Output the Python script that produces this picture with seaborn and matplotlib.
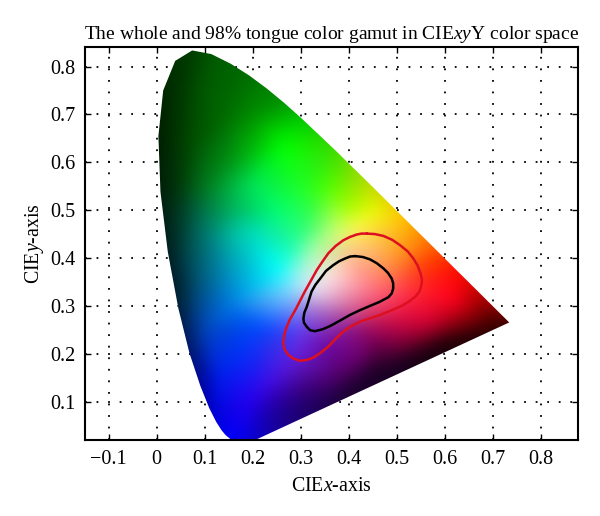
import numpy as np
import pandas as pd
import matplotlib
matplotlib.use("Agg")
import matplotlib.pyplot as plt
import matplotlib.tri as mtri
from matplotlib.patches import Polygon
import seaborn as sns

# chromaticity boundary
locus_x = [.1741,.1440,.1355,.1241,.1096,.0913,.0687,.0454,.0235,.0082,.0039,.0139,.0389,.0743,.1142,.1547,.1929,.2296,.2658,.3016,.3731,.4441,.5125,.5752,.6270,.6658,.6915,.7079,.7190,.7260,.7347]
locus_y = [.0050,.0297,.0399,.0578,.0868,.1327,.2007,.2950,.4127,.5384,.6548,.7502,.8120,.8338,.8262,.8059,.7816,.7543,.7243,.6923,.6245,.5547,.4866,.4242,.3725,.3340,.3083,.2920,.2809,.2740,.2653]
# whole tongue gamut (red) and 98% gamut (black)
red_x = [.438,.455,.473,.491,.507,.523,.535,.544,.550,.553,.552,.548,.539,.526,.511,.488,.466,.445,.424,.405,.389,.373,.358,.342,.327,.313,.299,.285,.275,.267,.264,.266,.270,.278,.289,.309,.334,.346,.358,.373,.389,.403,.417,.427,.438]
red_y = [.451,.450,.446,.438,.427,.414,.399,.384,.368,.355,.344,.330,.319,.309,.300,.290,.281,.274,.267,.257,.246,.231,.215,.202,.192,.187,.185,.190,.197,.208,.222,.238,.253,.272,.291,.330,.375,.393,.410,.425,.437,.444,.449,.451,.451]
black_x = [.414,.430,.445,.459,.473,.482,.490,.493,.493,.490,.483,.464,.445,.424,.403,.382,.362,.346,.330,.320,.313,.307,.306,.308,.313,.323,.331,.341,.353,.368,.380,.393,.403,.414]
black_y = [.404,.402,.397,.389,.378,.369,.357,.347,.336,.326,.318,.308,.300,.291,.281,.269,.258,.251,.247,.249,.256,.265,.274,.286,.298,.330,.344,.357,.373,.385,.393,.399,.403,.404]
# colours at sample positions
col_x = [.014,.074,.115,.19,.27,.30,.37,.44,.05,.10,.15,.20,.25,.263,.35,.40,.004,.008,.025,.045,.069,.091,.124,.157,.08,.10,.10,.08,.10,.13,.20,.15,.18,.25,.153,.222,.195,.30,.25,.35,.40,.50,.60,.70,.735,.284,.38,.424,.522,.576,.618,.68,.618,.55,.627,.575,.5125,.459,.555,.50,.45,.40,.36,.33,.32,.35,.40,.45,.50,.55,.40,.45,.30,.28,.30,.33,.38,.42,.30,.25,.20,
         .5,.45,.6,.65,.45,.5,.35,.2,.3,.15,.05,.05,.06,.15,.2,
         -.1,-.1,.05,.16,.35,.8,.8,.65,.5,.35,.1]
col_y = [.75,.834,.826,.782,.724,.692,.625,.555,.75,.75,.70,.70,.65,.636,.55,.50,.655,.538,.413,.295,.20,.133,.058,.02,.65,.55,.45,.35,.25,.15,.55,.60,.45,.375,.297,.25,.103,.124,.08,.10,.13,.18,.22,.255,.265,.187,.16,.193,.243,.27,.306,.306,.256,.22,.3725,.424,.487,.50,.395,.40,.42,.40,.36,.33,.30,.28,.30,.33,.33,.32,.25,.27,.25,.33,.36,.42,.45,.47,.45,.50,.45,
         .2,.16,.28,.29,.23,.28,.22,.62,.55,.5,.55,.45,.35,.35,.25,
         .85,.40,-.05,-.03,.0,.24,.30,.50,.65,.80,.92]
col_r = [0,0,0,0,0,0,60,180,0,0,0,0,0,0,70,170,0,0,0,0,0,0,0,0,0,0,0,0,0,0,0,0,0,0,0,0,40,60,30,30,30,25,20,50,60,100,90,110,170,220,255,150,130,90,255,255,255,240,255,255,255,255,255,235,180,160,220,255,255,255,140,200,100,140,180,170,220,255,40,0,0,
         80,25,200,170,130,230,110,0,30,0,0,0,0,0,0,
         0,0,0,0,30,60,200,255,255,0,0]
col_g = [40,60,90,110,150,200,220,220,55,90,110,140,230,255,255,255,30,30,30,30,20,0,0,0,80,120,120,80,70,30,230,145,215,255,120,70,0,0,0,0,0,0,0,0,0,30,0,0,0,0,0,0,0,0,10,100,200,250,70,150,190,190,230,225,130,90,110,110,70,30,20,30,60,220,240,255,255,250,255,255,220,
         0,0,0,0,0,20,10,190,255,170,60,60,50,140,70,
         30,30,0,0,0,0,0,100,220,150,60]
col_b = [0,0,0,0,0,0,0,0,0,0,0,0,0,0,0,0,0,10,30,50,100,150,220,255,0,30,110,110,190,240,90,20,180,255,230,255,240,130,150,80,50,35,5,0,0,220,110,110,60,50,30,0,15,30,0,0,0,0,0,40,100,150,230,245,210,190,160,130,90,50,140,90,240,255,240,160,120,70,130,110,190,
         50,35,30,10,90,70,170,10,40,90,10,50,70,200,250,
         0,30,255,255,70,0,0,0,0,0,0]
x_ticks = [-.1,0,.1,.2,.3,.4,.5,.6,.7,.8]
x_labels = ["\u22120.1","0","0.1","0.2","0.3","0.4","0.5","0.6","0.7","0.8"]
y_ticks = [.1,.2,.3,.4,.5,.6,.7,.8]
y_labels = ["0.1","0.2","0.3","0.4","0.5","0.6","0.7","0.8"]

sns.set_theme(style="ticks")
plt.rcParams.update({"font.family":"Liberation Serif","mathtext.fontset":"custom",
    "mathtext.rm":"Liberation Serif","mathtext.it":"Liberation Serif:italic"})

fig = plt.figure(figsize=(6,5.16),dpi=100)
ax = fig.add_axes([85/600,1-440/516,(578-85)/600,(440-47)/516])
xlim=(-.149,.878); ylim=(.0196,.841)

# colour field: interpolate the sampled colours over a triangulation, then soften
tri = mtri.Triangulation(col_x,col_y)
gx,gy = np.meshgrid(np.linspace(-.02,.78,480),np.linspace(0,.86,480))
rgb = np.ones(gx.shape+(3,))
kernel = np.exp(-.5*(np.arange(-24,25)/9)**2); kernel /= kernel.sum()
def soften(a):
    p = np.pad(a,24,mode="edge")
    p = np.apply_along_axis(lambda r:np.convolve(r,kernel,mode="same"),0,p)
    p = np.apply_along_axis(lambda r:np.convolve(r,kernel,mode="same"),1,p)
    return p[24:-24,24:-24]
for i,c in enumerate((col_r,col_g,col_b)):
    v = mtri.LinearTriInterpolator(tri,np.array(c,float)/255)(gx,gy)
    rgb[...,i] = soften(np.ma.filled(v,0))
rgb = np.clip(rgb,0,1)
im = ax.imshow(rgb,extent=(-.02,.78,0,.86),origin="lower",aspect="auto",zorder=1,interpolation="bilinear")
clip = Polygon(np.column_stack([locus_x,locus_y]),closed=True,transform=ax.transData,fc="none",ec="none")
ax.add_patch(clip)
im.set_clip_path(clip)

sns.lineplot(data=pd.DataFrame({"x":red_x,"y":red_y}),x="x",y="y",sort=False,estimator=None,color="#dc1020",lw=1.8,ax=ax,zorder=3,solid_joinstyle="round")
sns.lineplot(data=pd.DataFrame({"x":black_x,"y":black_y}),x="x",y="y",sort=False,estimator=None,color="black",lw=1.8,ax=ax,zorder=4,solid_joinstyle="round")

ax.set_xlim(xlim); ax.set_ylim(ylim)
ax.set_xticks(x_ticks,x_labels); ax.set_yticks(y_ticks,y_labels)
ax.set_axisbelow(True)
ax.grid(True,color="black",lw=1.3,linestyle=(0,(1,5.4)))
ax.tick_params(direction="in",length=4,width=1,top=True,right=True,labelsize=14.5,pad=7,colors="black")
for s in ax.spines.values():
    s.set_visible(True); s.set_color("black"); s.set_linewidth(1.5)
ax.set_xlabel("CIE$\\it{x}$-axis",fontsize=14.3,labelpad=6,color="black")
ax.set_ylabel("CIE$\\it{y}$-axis",fontsize=14.3,labelpad=3,color="black")
ax.set_title("The whole and 98% tongue color gamut in CIE$\\it{xy}$Y color space",fontsize=14,pad=6,color="black")
fig.savefig("out.png",dpi=100)
